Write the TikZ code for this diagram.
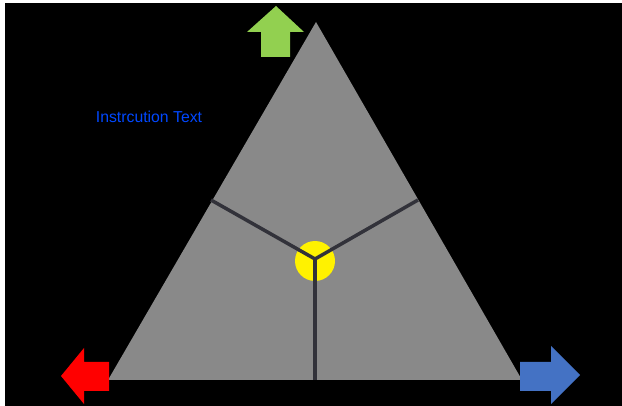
\documentclass[tikz,border=0pt]{standalone}
\usepackage{fontspec}
\setmainfont{Liberation Sans}
\definecolor{tri}{RGB}{137,137,137}
\definecolor{spoke}{RGB}{50,50,58}
\definecolor{grn}{RGB}{146,208,80}
\definecolor{blu}{RGB}{68,114,196}
\definecolor{txtblue}{RGB}{0,72,255}
\begin{document}
\begin{tikzpicture}[x=1pt,y=-1pt,
  spokeline/.style={draw=spoke,line width=3.5pt},
  arrowshape/.style={draw=none}]
\useasboundingbox (0,0) rectangle (622,406);
\fill[white] (0,0) rectangle (622,406);
\fill[black] (5,3) rectangle (622,406);
% triangle
\coordinate (apex) at (316,22);
\coordinate (bl) at (108,380);
\coordinate (br) at (522,380);
\fill[tri] (apex) -- (bl) -- (br) -- cycle;
% centre and spoke ends
\coordinate (c) at (315,259);
\coordinate (sl) at (211,200);
\coordinate (sr) at (418,200);
\coordinate (sb) at (315,380);
\node[circle,fill=yellow,minimum size=40pt,inner sep=0pt] (dot) at (315,261) {};
\draw[spokeline] (sl) -- (c) -- (sr);
\draw[spokeline] (c) -- (sb);
% green up arrow
\fill[grn] (276,6) -- (304,32) -- (290,32) -- (290,57) -- (261,57) -- (261,32) -- (247,32) -- cycle;
% red left arrow
\fill[red] (61,376) -- (84,348) -- (84,362) -- (109,362) -- (109,391) -- (84,391) -- (84,404) -- cycle;
% blue right arrow
\fill[blu] (580,375) -- (551,346) -- (551,362) -- (520,362) -- (520,391) -- (551,391) -- (551,404) -- cycle;
% text
\node[text=txtblue,font=\fontsize{15.8}{18}\selectfont,inner sep=0pt] (txt) at (149,117) {Instrcution Text};
\end{tikzpicture}
\end{document}
